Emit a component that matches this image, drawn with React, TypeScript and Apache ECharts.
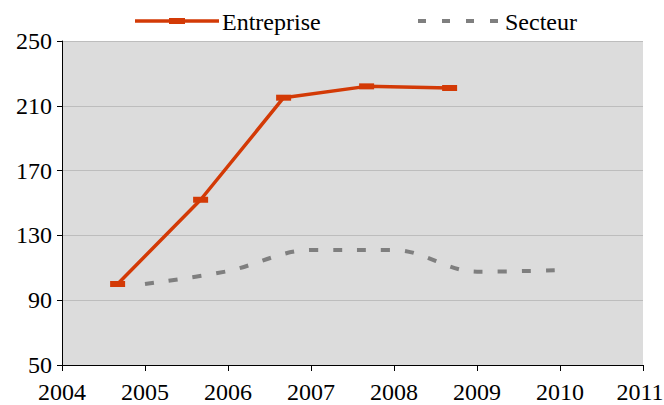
import React, { useEffect, useRef } from "react";
import * as echarts from "echarts";

// Entreprise: observations dated part-way through each year (decimal years)
const entrepriseDates = [2004.67, 2005.67, 2006.67, 2007.67, 2008.67];
const entrepriseValues = [100, 152, 215, 222, 221];

// Secteur: yearly values
const secteurYears = [2005, 2006, 2007, 2008, 2009, 2010];
const secteurValues = [100, 108, 121, 121, 107.6, 108.5];

const xTicks = [2004, 2005, 2006, 2007, 2008, 2009, 2010, 2011];
const yTicks = [50, 90, 130, 170, 210, 250];
const seriesNames = ["Entreprise", "Secteur"];

const FONT = "Liberation Serif";
const FONT_SIZE = 24;
const RED = "#d33a06";
const GREY = "#7f7f7f";
const W = 664;
const H = 405;

export default function App() {
  const ref = useRef<HTMLDivElement>(null);
  useEffect(() => {
    if (!ref.current) return;
    const chart = echarts.init(ref.current, undefined, { renderer: "svg" });
    chart.setOption({
      animation: false,
      backgroundColor: "#ffffff",
      grid: {
        left: 62,
        right: 21,
        top: 41,
        bottom: 40,
        show: true,
        backgroundColor: "#dcdcdc",
        borderWidth: 0,
      },
      xAxis: {
        type: "value",
        min: xTicks[0],
        max: xTicks[xTicks.length - 1],
        interval: 1,
        axisLine: { show: true, onZero: false, lineStyle: { color: "#000", width: 1 } },
        axisTick: { show: true, length: 6, lineStyle: { color: "#000" } },
        axisLabel: { show: false },
        splitLine: { show: false },
      },
      yAxis: {
        type: "value",
        min: yTicks[0],
        max: yTicks[yTicks.length - 1],
        interval: 40,
        axisLine: { show: true, lineStyle: { color: "#000", width: 1 } },
        axisTick: { show: true, length: 5, lineStyle: { color: "#000" } },
        axisLabel: { show: false },
        splitLine: { show: true, lineStyle: { color: "#bdbdbd", width: 1 } },
      },
      series: [
        {
          name: seriesNames[0],
          type: "line",
          data: entrepriseDates.map((d, i) => [d, entrepriseValues[i]]),
          symbol: "rect",
          symbolSize: [15, 6],
          showSymbol: true,
          lineStyle: { color: RED, width: 3.5 },
          itemStyle: { color: RED },
          z: 3,
        },
        {
          name: seriesNames[1],
          type: "line",
          data: secteurYears.map((d, i) => [d, secteurValues[i]]),
          symbol: "none",
          smooth: 0.35,
          lineStyle: { color: GREY, width: 4, type: [9, 15], cap: "butt" },
          itemStyle: { color: GREY },
          z: 2,
        },
      ],
    });

    const font = `${FONT_SIZE}px ${FONT}`;
    // Axis labels placed through the chart's own scales
    const xLabels = xTicks.map((v) => {
      const [px, py] = chart.convertToPixel({ xAxisIndex: 0, yAxisIndex: 0 }, [v, yTicks[0]]);
      return {
        type: "text",
        x: Math.min(px, W - 24),
        y: py + 15,
        style: { text: "" + v, font, fill: "#000", align: "center", verticalAlign: "top" },
      };
    });
    const yLabels = yTicks.map((v) => {
      const [px, py] = chart.convertToPixel({ xAxisIndex: 0, yAxisIndex: 0 }, [xTicks[0], v]);
      return {
        type: "text",
        x: px - 10,
        y: py,
        style: { text: "" + v, font, fill: "#000", align: "right", verticalAlign: "middle" },
      };
    });

    const legend = [
      {
        type: "line",
        shape: { x1: 135, y1: 21, x2: 219, y2: 21 },
        style: { stroke: RED, lineWidth: 3.5 },
      },
      {
        type: "rect",
        shape: { x: 169, y: 18, width: 16, height: 6 },
        style: { fill: RED },
      },
      {
        type: "text",
        x: 222,
        y: 22,
        style: { text: seriesNames[0], font, fill: "#000", verticalAlign: "middle" },
      },
      {
        type: "line",
        shape: { x1: 418, y1: 21, x2: 500, y2: 21 },
        style: { stroke: GREY, lineWidth: 4, lineDash: [8, 16] },
      },
      {
        type: "text",
        x: 505,
        y: 22,
        style: { text: seriesNames[1], font, fill: "#000", verticalAlign: "middle" },
      },
    ];

    chart.setOption({ graphic: [...legend, ...xLabels, ...yLabels] });
    return () => chart.dispose();
  }, []);
  return <div ref={ref} style={{ width: W, height: H, position: "absolute", left: 0, top: 0 }} />;
}
